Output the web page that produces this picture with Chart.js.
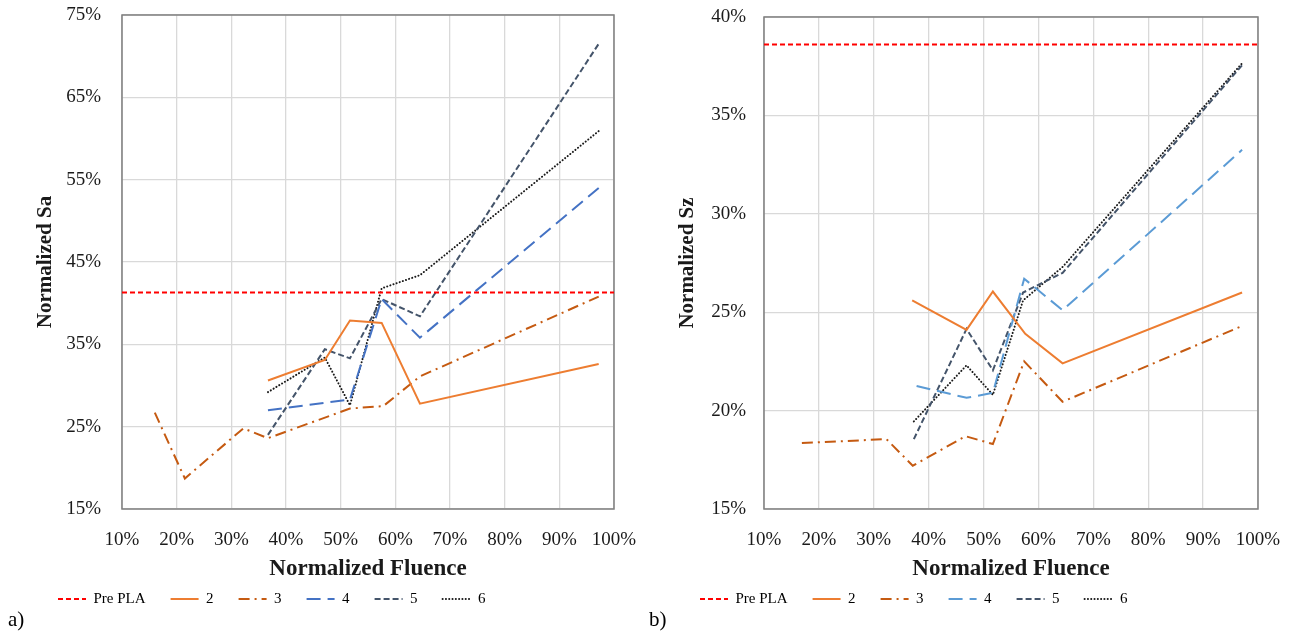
<!DOCTYPE html>
<html>
<head>
<meta charset="utf-8">
<script src="https://cdn.jsdelivr.net/npm/chart.js@4.4.1/dist/chart.umd.min.js"></script>
<style>
  body { margin: 0; background: #fff; width: 1294px; height: 632px; overflow: hidden; position: relative; font-family: 'Liberation Serif', 'Times New Roman', serif; }
  .box { position: absolute; top: 0; height: 632px; }
  .tag { position: absolute; top: 607px; font-size: 21px; color: #000; line-height: 24px; }
</style>
</head>
<body>
<div class="box" style="left:0;width:640px"><canvas id="saChart"></canvas></div>
<div class="box" style="left:640px;width:654px"><canvas id="szChart"></canvas></div>
<div class="tag" style="left:8px">a)</div>
<div class="tag" style="left:649px">b)</div>
<script>
// normalized fluence (%) vs normalized roughness (%)
const seriesNames = ['Pre PLA', '2', '3', '4', '5', '6'];
const prePlaX = [10, 100];

// a) Sa
const saPrePla = [41.3, 41.3];
const sa2X = [36.7, 47.1, 51.7, 57.5, 64.5, 97.2];
const sa2Y = [30.6, 33.1, 37.9, 37.6, 27.8, 32.6];
const sa3X = [16.0, 21.5, 32.2, 36.7, 51.7, 57.8, 64.5, 97.2];
const sa3Y = [26.7, 18.7, 24.8, 23.6, 27.2, 27.5, 31.1, 40.8];
const sa4X = [36.7, 51.7, 57.5, 64.5, 97.2];
const sa4Y = [27.0, 28.3, 40.5, 35.8, 54.0];
const sa5X = [36.7, 47.1, 51.7, 57.5, 64.5, 97.2];
const sa5Y = [24.0, 34.4, 33.3, 40.5, 38.4, 71.5];
const sa6X = [36.7, 47.1, 51.7, 57.5, 64.5, 97.2];
const sa6Y = [29.2, 33.4, 27.6, 41.8, 43.4, 60.9];

// b) Sz
const szPrePla = [38.6, 38.6];
const sz2X = [37.0, 46.9, 51.7, 57.6, 64.4, 97.1];
const sz2Y = [25.6, 24.1, 26.05, 23.9, 22.4, 26.0];
const sz3X = [16.9, 32.3, 37.1, 46.7, 51.7, 57.4, 64.4, 97.1];
const sz3Y = [18.35, 18.55, 17.2, 18.7, 18.3, 22.5, 20.45, 24.3];
const sz4X = [37.8, 46.9, 51.7, 57.4, 64.4, 97.1];
const sz4Y = [21.25, 20.65, 20.9, 26.7, 25.1, 33.25];
const sz5X = [37.3, 46.9, 51.7, 57.2, 64.4, 97.1];
const sz5Y = [18.55, 24.15, 22.05, 26.0, 27.0, 37.55];
const sz6X = [37.3, 46.9, 51.7, 57.2, 64.4, 97.1];
const sz6Y = [19.45, 22.3, 20.8, 25.6, 27.3, 37.65];

const serif = "'Liberation Serif', 'Times New Roman', serif";
Chart.defaults.font.family = serif;

const pts = (xs, ys) => xs.map((x, i) => ({ x, y: ys[i] }));

// plot frame (all four sides, like the Excel plot area)
const frame = {
  id: 'frame',
  beforeDatasetsDraw(chart) {
    const { ctx, chartArea: a } = chart;
    ctx.save();
    ctx.strokeStyle = '#7f7f7f';
    ctx.lineWidth = 1.5;
    ctx.strokeRect(a.left, a.top, a.right - a.left, a.bottom - a.top);
    ctx.restore();
  }
};

// legend entries drawn as short line samples with the dataset's dash pattern
const lineLabels = chart => chart.data.datasets.map((ds, i) => ({
  text: ds.label,
  datasetIndex: i,
  hidden: false,
  fillStyle: ds.borderColor,
  strokeStyle: ds.borderColor,
  lineWidth: ds.borderWidth,
  lineDash: ds.borderDash,
  lineCap: ds.borderCapStyle || 'butt',
  pointStyle: 'line',
  fontColor: '#000'
}));

function buildChart(id, cfg) {
  const styles = [
    { borderColor: '#ff0000', borderDash: [5, 3] },
    { borderColor: '#ed7d31', borderDash: [] },
    { borderColor: '#c55a11', borderDash: [11, 5, 2, 5] },
    { borderColor: cfg.blue, borderDash: [14, 7] },
    { borderColor: '#44546a', borderDash: [6, 3] },
    { borderColor: '#1a1a1a', borderDash: [0.1, 3.2], borderCapStyle: 'round' }
  ];
  const datasets = cfg.series.map((data, i) => Object.assign({
    label: seriesNames[i],
    data,
    borderWidth: 2,
    pointRadius: 0,
    fill: false,
    tension: 0
  }, styles[i]));

  return new Chart(document.getElementById(id), {
    type: 'line',
    data: { datasets },
    plugins: [frame],
    options: {
      responsive: true,
      maintainAspectRatio: false,
      animation: false,
      events: [],
      layout: { padding: cfg.padding },
      scales: {
        x: {
          type: 'linear',
          min: 10,
          max: 100,
          afterFit: s => {
            s.height = 57.5;
            s.paddingLeft = 0;
            s.paddingRight = 0;
          },
          ticks: {
            stepSize: 10,
            padding: 20,
            color: '#1a1a1a',
            font: { size: 19 },
            callback: v => v + '%'
          },
          grid: { color: '#d9d9d9', lineWidth: 1.3, drawTicks: false },
          border: { display: false },
          title: {
            display: true,
            text: 'Normalized Fluence',
            color: '#1a1a1a',
            font: { size: 23, weight: 'bold' },
            padding: { top: 5, bottom: -16 }
          }
        },
        y: {
          min: cfg.yMin,
          max: cfg.yMax,
          afterFit: s => {
            s.width = 89;
            s.paddingTop = 0;
            s.paddingBottom = 0;
          },
          ticks: {
            stepSize: cfg.yStep,
            padding: cfg.yTickPad,
            color: '#1a1a1a',
            font: { size: 19 },
            callback: v => v + '%'
          },
          grid: { color: '#d9d9d9', lineWidth: 1.3, drawTicks: false },
          border: { display: false },
          title: {
            display: true,
            text: cfg.yTitle,
            color: '#1a1a1a',
            font: { size: 21, weight: 'bold' },
            padding: { top: 0, bottom: 0 }
          }
        }
      },
      plugins: {
        tooltip: { enabled: false },
        legend: {
          position: 'bottom',
          align: 'start',
          labels: {
            usePointStyle: true,
            pointStyle: 'line',
            pointStyleWidth: 28,
            padding: 25,
            color: '#000',
            font: { size: 15 },
            generateLabels: lineLabels
          }
        }
      }
    }
  });
}

buildChart('saChart', {
  yTitle: 'Normalized Sa',
  yMin: 15, yMax: 75, yStep: 10,
  yTickPad: 21,
  blue: '#4472c4',
  padding: { left: 33, right: 26, top: 15, bottom: 15.5 },
  series: [
    pts(prePlaX, saPrePla),
    pts(sa2X, sa2Y),
    pts(sa3X, sa3Y),
    pts(sa4X, sa4Y),
    pts(sa5X, sa5Y),
    pts(sa6X, sa6Y)
  ]
});

buildChart('szChart', {
  yTitle: 'Normalized Sz',
  yMin: 15, yMax: 40, yStep: 5,
  yTickPad: 18,
  blue: '#5b9bd5',
  padding: { left: 35, right: 36, top: 17, bottom: 15.5 },
  series: [
    pts(prePlaX, szPrePla),
    pts(sz2X, sz2Y),
    pts(sz3X, sz3Y),
    pts(sz4X, sz4Y),
    pts(sz5X, sz5Y),
    pts(sz6X, sz6Y)
  ]
});
</script>
</body>
</html>
